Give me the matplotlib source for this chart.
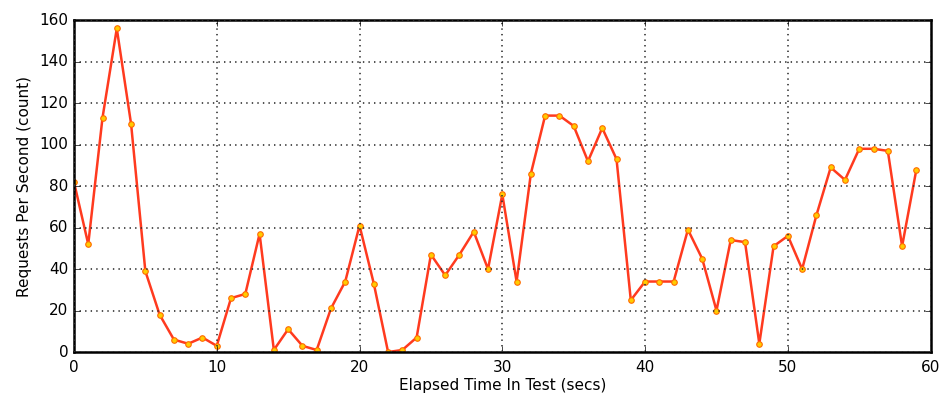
import matplotlib
matplotlib.use("Agg")
import matplotlib.pyplot as plt

seconds = list(range(60))
requests = [82, 52, 113, 156, 110, 39, 18, 6, 4, 7,
            3, 26, 28, 57, 1, 11, 3, 1, 21, 34,
            61, 33, 0, 1, 7, 47, 37, 47, 58, 40,
            76, 34, 86, 114, 114, 109, 92, 108, 93, 25,
            34, 34, 34, 59, 45, 20, 54, 53, 4, 51,
            56, 40, 66, 89, 83, 98, 98, 97, 51, 88]
xticks = [0, 10, 20, 30, 40, 50, 60]
yticks = [0, 20, 40, 60, 80, 100, 120, 140, 160]

plt.style.use('classic')
plt.rcParams['font.family'] = ['DejaVu Sans']

fig = plt.figure(figsize=(9.41, 3.96), dpi=100, facecolor='white')
ax = fig.add_axes([0.0786, 0.111, 0.9104, 0.838])
ax.set_facecolor('white')
ax.plot(seconds, requests, color='#ff3a1f', linewidth=1.8, marker='o',
        markersize=4, markerfacecolor='#ffcc00', markeredgecolor='#ff6a00',
        markeredgewidth=0.8)
ax.set_xlim(0, 60)
ax.set_ylim(0, 160)
ax.set_xticks(xticks)
ax.set_yticks(yticks)
ax.tick_params(labelsize=11)
ax.tick_params(axis='x', pad=6)
ax.grid(True, color='#333333', linestyle=':', linewidth=1.2)
for s in ax.spines.values():
    s.set_linewidth(1.8)
ax.set_xlabel('Elapsed Time In Test (secs)', fontsize=11, labelpad=2)
ax.set_ylabel('Requests Per Second (count)', fontsize=11)
fig.savefig('out.png', dpi=100, facecolor='white')
